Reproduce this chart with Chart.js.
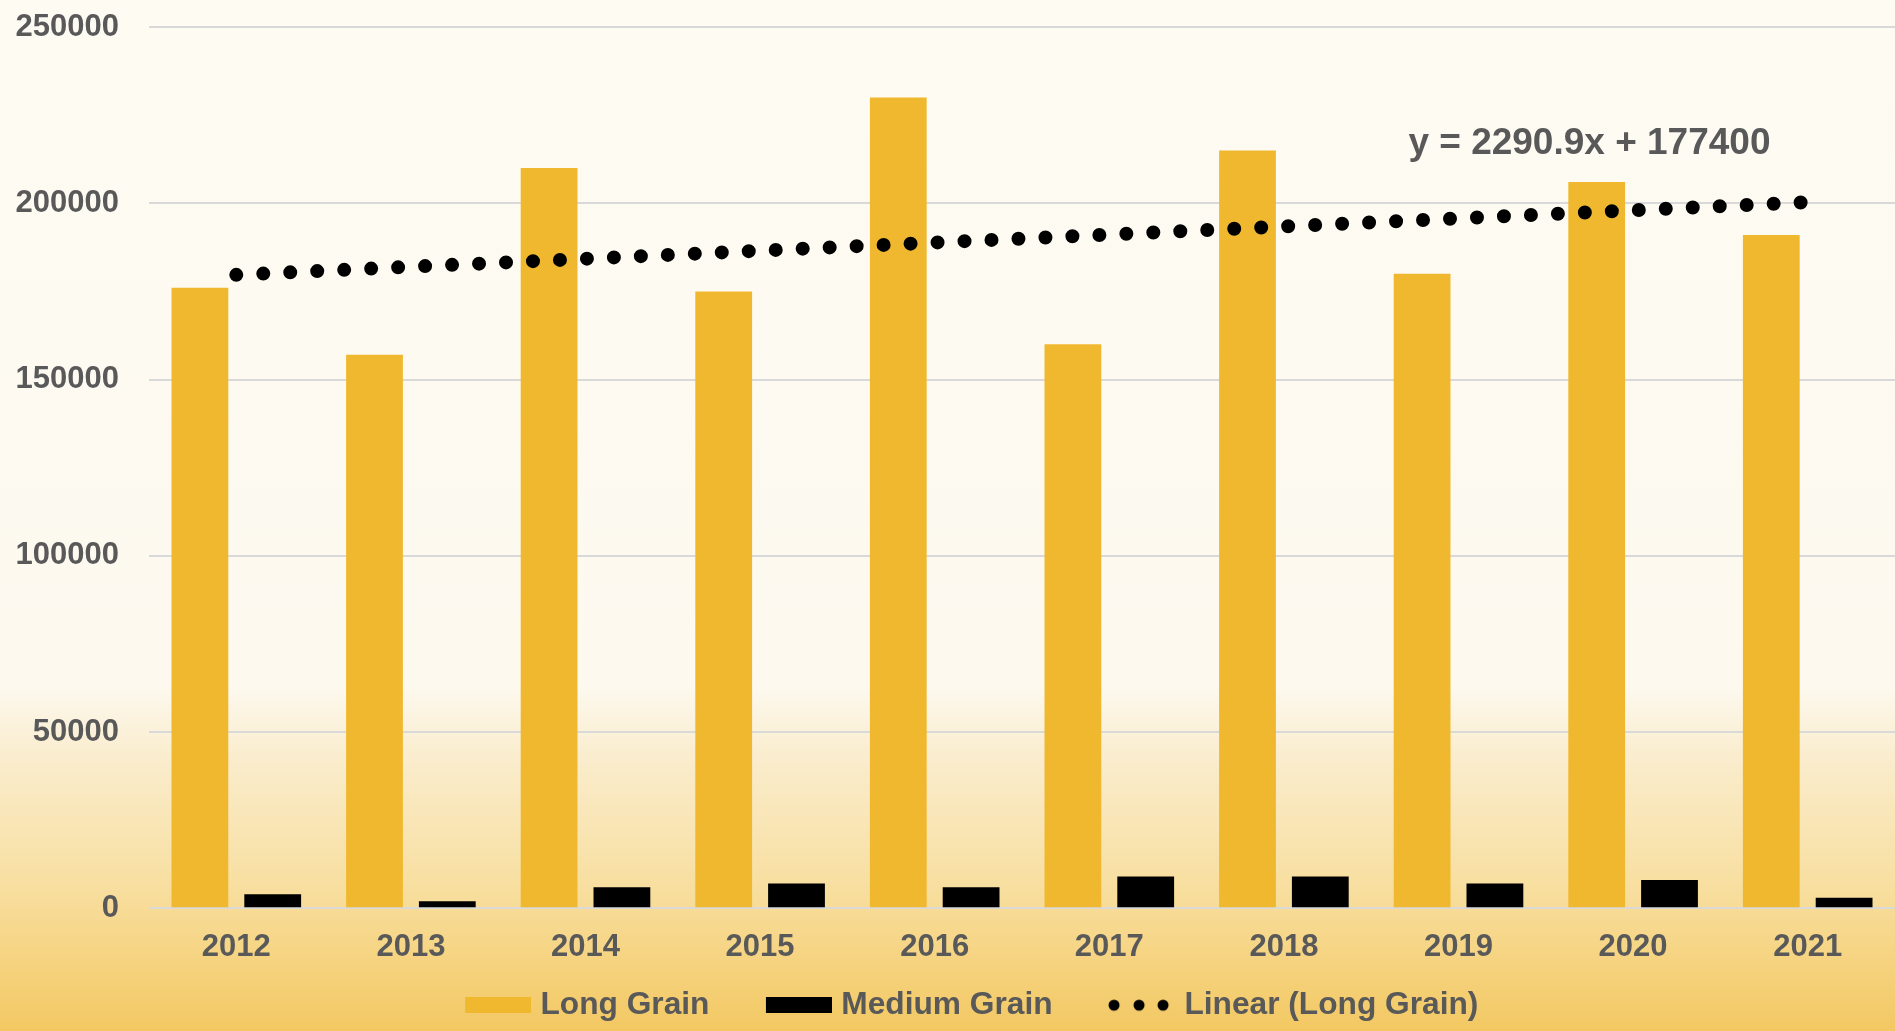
<!DOCTYPE html>
<html>
<head>
<meta charset="utf-8">
<script src="https://cdn.jsdelivr.net/npm/chart.js@4.4.0/dist/chart.umd.min.js"></script>
<style>
    html, body { margin: 0; padding: 0; }
    #wrap { width: 1895px; height: 1031px; position: relative; }
</style>
</head>
<body>
<div id="wrap"><canvas id="grain-chart"></canvas></div>
<script>
/************** data ****************/
const years = ["2012", "2013", "2014", "2015", "2016", "2017", "2018", "2019", "2020", "2021"]
const longGrain = [176000, 157000, 210000, 175000, 230000, 160000, 215000, 180000, 206000, 191000]
const mediumGrain = [4000, 2000, 6000, 7000, 6000, 9000, 9000, 7000, 8000, 3000]
const yTicks = [0, 50000, 100000, 150000, 200000, 250000]

// trendline as printed on the chart: y = 2290.9x + 177400 (x = 1 .. 10)
const trendSlope = 2290.9
const trendIntercept = 177400
const trendLabel = "y = 2290.9x + 177400"

const textColor = "#595959"
const goldColor = "#f0b82e"

// only the two ends of the trendline, the line between is drawn by the library
let trendValues = years.map(() => null)
trendValues[0] = trendSlope * 1 + trendIntercept
trendValues[years.length - 1] = trendSlope * years.length + trendIntercept

/************** legend symbols ****************/
function LegendSymbol(kind) {
    let c = document.createElement("canvas")
    c.width = 106
    c.height = 16
    let g = c.getContext("2d")
    if (kind === "dots") {
        g.fillStyle = "#000"
        ;[5, 30, 54].forEach(dx => {
            g.beginPath()
            g.arc(40 + dx, 8, 5.5, 0, Math.PI * 2)
            g.fill()
        })
    } else {
        g.fillStyle = kind
        g.fillRect(40, 0, 66, 16)
    }
    return c
}

/************** plugins ****************/
const backgroundPlugin = {
    id: "background",
    beforeDraw(chart) {
        const { ctx, width, height } = chart
        let grad = ctx.createLinearGradient(0, 0, 0, height)
        grad.addColorStop(0, "#fefbf3")
        grad.addColorStop(0.665, "#fdf9ef")
        grad.addColorStop(0.74, "#faeccb")
        grad.addColorStop(0.86, "#f8dfa0")
        grad.addColorStop(1, "#f3c862")
        ctx.save()
        ctx.fillStyle = grad
        ctx.fillRect(0, 0, width, height)
        ctx.restore()
    }
}

const trendLabelPlugin = {
    id: "trendLabel",
    afterDatasetsDraw(chart) {
        const { ctx, scales } = chart
        ctx.save()
        ctx.font = "bold 37px 'Liberation Sans', Arial, sans-serif"
        ctx.fillStyle = textColor
        ctx.textAlign = "center"
        ctx.textBaseline = "middle"
        ctx.fillText(trendLabel, scales.x.getPixelForValue(7.75), scales.y.getPixelForValue(217000))
        ctx.restore()
    }
}

/************** chart ****************/
const data = {
    labels: years,
    datasets: [{
        type: "line",
        label: "Linear (Long Grain)",
        data: trendValues,
        borderColor: "#000",
        borderWidth: 14,
        borderDash: [0, 27],
        borderCapStyle: "round",
        pointRadius: 0,
        spanGaps: true,
        order: 0
    }, {
        type: "bar",
        label: "Long Grain",
        data: longGrain,
        backgroundColor: goldColor,
        categoryPercentage: 0.834,
        barPercentage: 0.78,
        order: 1
    }, {
        type: "bar",
        label: "Medium Grain",
        data: mediumGrain,
        backgroundColor: "#000",
        categoryPercentage: 0.834,
        barPercentage: 0.78,
        order: 1
    }]
}

const tickFont = { family: "'Liberation Sans', Arial, sans-serif", size: 31, weight: "bold" }
const legendFont = { family: "'Liberation Sans', Arial, sans-serif", size: 31.7, weight: "bold" }

const config = {
    data: data,
    plugins: [backgroundPlugin, trendLabelPlugin],
    options: {
        responsive: true,
        maintainAspectRatio: false,
        animation: false,
        layout: { padding: { left: 15, top: 27, right: 0, bottom: 0 } },
        scales: {
            x: {
                grid: { display: false },
                border: { display: false },
                ticks: { color: textColor, font: tickFont, padding: 13 },
                afterFit: (scale) => { scale.height = 58 }
            },
            y: {
                min: 0,
                max: 250000,
                afterBuildTicks: (scale) => { scale.ticks = yTicks.map(v => ({ value: v })) },
                grid: { color: "#d9d9d9", lineWidth: 2, drawTicks: false },
                border: { display: false },
                ticks: { color: textColor, font: tickFont, padding: 30, callback: (v) => String(v) },
                afterFit: (scale) => {
                    scale.width = 134
                    scale.paddingTop = 0
                    scale.paddingBottom = 0
                }
            }
        },
        plugins: {
            tooltip: { enabled: false },
            legend: {
                position: "bottom",
                labels: {
                    usePointStyle: true,
                    pointStyleWidth: 93,
                    boxHeight: 16,
                    padding: 23,
                    color: textColor,
                    font: legendFont,
                    generateLabels: () => [
                        { text: "Long Grain", pointStyle: LegendSymbol(goldColor), fontColor: textColor, datasetIndex: 1, hidden: false, lineWidth: 0 },
                        { text: "Medium Grain", pointStyle: LegendSymbol("#000"), fontColor: textColor, datasetIndex: 2, hidden: false, lineWidth: 0 },
                        { text: "Linear (Long Grain)", pointStyle: LegendSymbol("dots"), fontColor: textColor, datasetIndex: 0, hidden: false, lineWidth: 0 }
                    ]
                }
            }
        }
    }
}

const grainChart = new Chart(document.getElementById("grain-chart"), config)
</script>
</body>
</html>
